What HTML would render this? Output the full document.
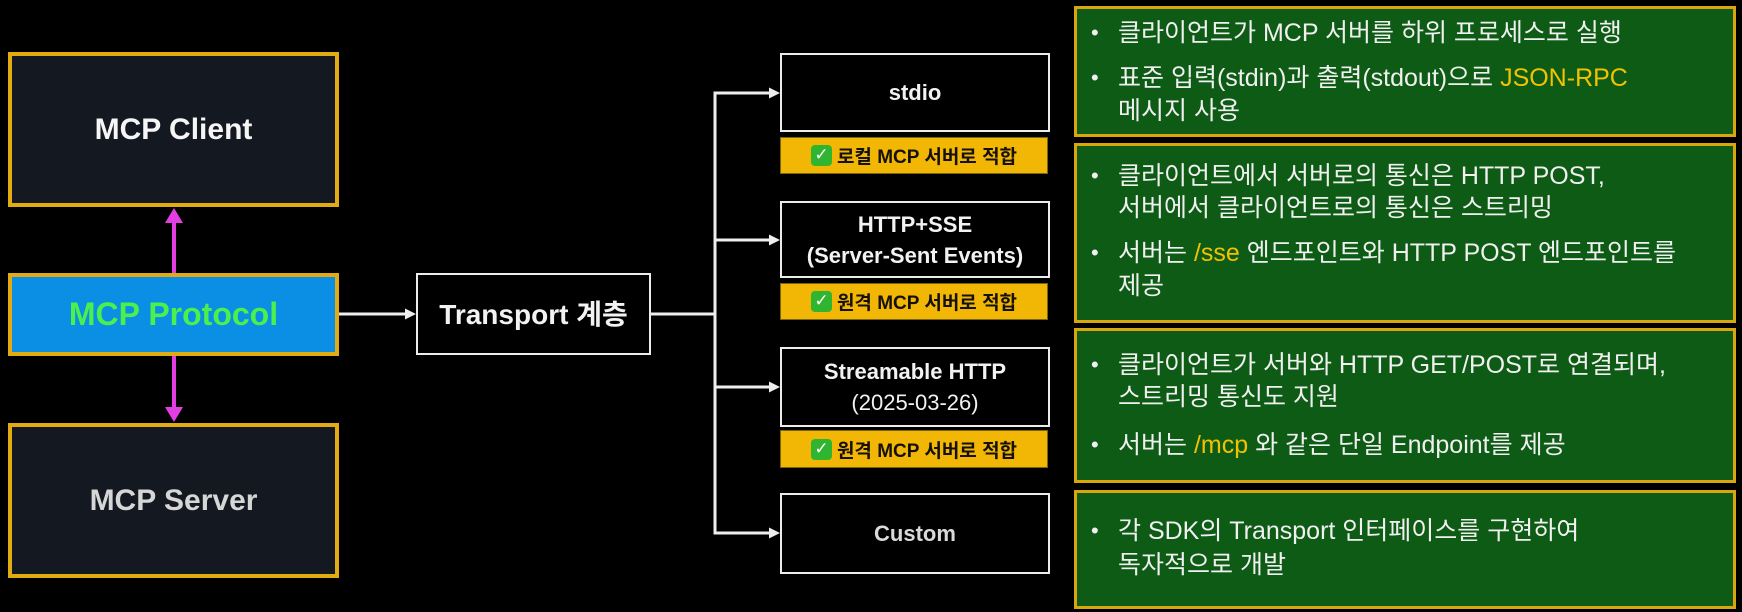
<!DOCTYPE html>
<html>
<head>
<meta charset="utf-8">
<style>
  html, body { margin:0; padding:0; }
  body { width:1742px; height:612px; background:#000; position:relative; overflow:hidden;
         font-family:"Liberation Sans","Noto Sans CJK KR",sans-serif; }
  .abs { position:absolute; box-sizing:border-box; }
  .lbox { border:4px solid #e2ab12; background:#131821; display:flex; align-items:center; justify-content:center;
          font-weight:bold; font-size:30px; }
  .wbox { border:2.5px solid #ececec; background:#000; display:flex; flex-direction:column; align-items:center; justify-content:center;
          color:#f2f2f2; font-weight:bold; font-size:22px; line-height:31px; text-align:center; }
  .badge { background:#f2b705; border:1px solid #7a6410; display:flex; align-items:center; justify-content:center;
           font-weight:bold; font-size:19px; color:#15110a; white-space:nowrap; }
  .chk { display:inline-block; width:21px; height:21px; background:#2fb52f; border-radius:4px; color:#fff;
         font-size:17px; line-height:21px; text-align:center; margin-right:5px; font-weight:bold;
         font-family:"DejaVu Sans",sans-serif; }
  .panel { border:3px solid #d9a70d; background:#0e5b16; }
  .ln { position:absolute; left:1118px; height:32px; line-height:32px; font-size:25px; color:#f0f0f0; white-space:nowrap; }
  .bul { position:absolute; left:1091px; height:32px; line-height:32px; font-size:22px; color:#f0f0f0; }
  .hl { color:#f2c200; }
</style>
</head>
<body>

<!-- Left column -->
<div class="abs lbox" style="left:8px;top:52px;width:331px;height:155px;color:#f5f5f5;">MCP Client</div>
<div class="abs lbox" style="left:8px;top:273px;width:331px;height:83px;background:#0a8fe4;color:#4cf04c;font-size:32px;">MCP Protocol</div>
<div class="abs lbox" style="left:8px;top:423px;width:331px;height:155px;color:#d6d6d6;">MCP Server</div>

<!-- Transport -->
<div class="abs wbox" style="left:416px;top:273px;width:235px;height:82px;font-size:28px;">Transport 계층</div>

<!-- Middle boxes -->
<div class="abs wbox" style="left:780px;top:53px;width:270px;height:79px;">stdio</div>
<div class="abs badge" style="left:780px;top:137px;width:268px;height:37px;"><span class="chk">✓</span>로컬 MCP 서버로 적합</div>

<div class="abs wbox" style="left:780px;top:201px;width:270px;height:77px;"><div>HTTP+SSE</div><div>(Server-Sent Events)</div></div>
<div class="abs badge" style="left:780px;top:283px;width:268px;height:37px;"><span class="chk">✓</span>원격 MCP 서버로 적합</div>

<div class="abs wbox" style="left:780px;top:347px;width:270px;height:80px;"><div>Streamable HTTP</div><div style="font-weight:normal;">(2025-03-26)</div></div>
<div class="abs badge" style="left:780px;top:430px;width:268px;height:38px;"><span class="chk">✓</span>원격 MCP 서버로 적합</div>

<div class="abs wbox" style="left:780px;top:493px;width:270px;height:81px;color:#dadada;">Custom</div>

<!-- Connectors -->
<svg class="abs" style="left:0;top:0;" width="1742" height="612" viewBox="0 0 1742 612">
  <!-- magenta -->
  <line x1="174" y1="220" x2="174" y2="273" stroke="#e23ee2" stroke-width="4"/>
  <polygon points="174,208 165,223 183,223" fill="#e23ee2"/>
  <line x1="174" y1="356" x2="174" y2="410" stroke="#e23ee2" stroke-width="4"/>
  <polygon points="174,422 165,407 183,407" fill="#e23ee2"/>
  <!-- protocol -> transport -->
  <line x1="339" y1="314" x2="408" y2="314" stroke="#eeeeee" stroke-width="3"/>
  <polygon points="416,314 405,308.5 405,319.5" fill="#eeeeee"/>
  <!-- transport -> branches -->
  <line x1="651" y1="314" x2="716" y2="314" stroke="#eeeeee" stroke-width="3"/>
  <line x1="715" y1="91.5" x2="715" y2="534.5" stroke="#eeeeee" stroke-width="3"/>
  <g stroke="#eeeeee" stroke-width="3">
    <line x1="714" y1="93" x2="771" y2="93"/>
    <line x1="714" y1="240" x2="771" y2="240"/>
    <line x1="714" y1="387" x2="771" y2="387"/>
    <line x1="714" y1="533" x2="771" y2="533"/>
  </g>
  <g fill="#eeeeee">
    <polygon points="780,93 769,87.5 769,98.5"/>
    <polygon points="780,240 769,234.5 769,245.5"/>
    <polygon points="780,387 769,381.5 769,392.5"/>
    <polygon points="780,533 769,527.5 769,538.5"/>
  </g>
</svg>

<!-- Right panels -->
<div class="abs panel" style="left:1074px;top:6px;width:662px;height:131px;"></div>
<div class="abs panel" style="left:1074px;top:143px;width:662px;height:180px;"></div>
<div class="abs panel" style="left:1074px;top:328px;width:662px;height:155px;"></div>
<div class="abs panel" style="left:1074px;top:490px;width:662px;height:119px;"></div>

<!-- Panel 1 -->
<div class="bul" style="top:17px;">•</div>
<div class="ln" style="top:17px;">클라이언트가 MCP 서버를 하위 프로세스로 실행</div>
<div class="bul" style="top:62px;">•</div>
<div class="ln" style="top:62px;">표준 입력(stdin)과 출력(stdout)으로 <span class="hl">JSON-RPC</span></div>
<div class="ln" style="top:95px;">메시지 사용</div>

<!-- Panel 2 -->
<div class="bul" style="top:160px;">•</div>
<div class="ln" style="top:160px;">클라이언트에서 서버로의 통신은 HTTP POST,</div>
<div class="ln" style="top:192px;">서버에서 클라이언트로의 통신은 스트리밍</div>
<div class="bul" style="top:237px;">•</div>
<div class="ln" style="top:237px;">서버는 <span class="hl">/sse</span> 엔드포인트와 HTTP POST 엔드포인트를</div>
<div class="ln" style="top:270px;">제공</div>

<!-- Panel 3 -->
<div class="bul" style="top:349px;">•</div>
<div class="ln" style="top:349px;">클라이언트가 서버와 HTTP GET/POST로 연결되며,</div>
<div class="ln" style="top:381px;">스트리밍 통신도 지원</div>
<div class="bul" style="top:429px;">•</div>
<div class="ln" style="top:429px;">서버는 <span class="hl">/mcp</span> 와 같은 단일 Endpoint를 제공</div>

<!-- Panel 4 -->
<div class="bul" style="top:515px;">•</div>
<div class="ln" style="top:515px;">각 SDK의 Transport 인터페이스를 구현하여</div>
<div class="ln" style="top:549px;">독자적으로 개발</div>

</body>
</html>
